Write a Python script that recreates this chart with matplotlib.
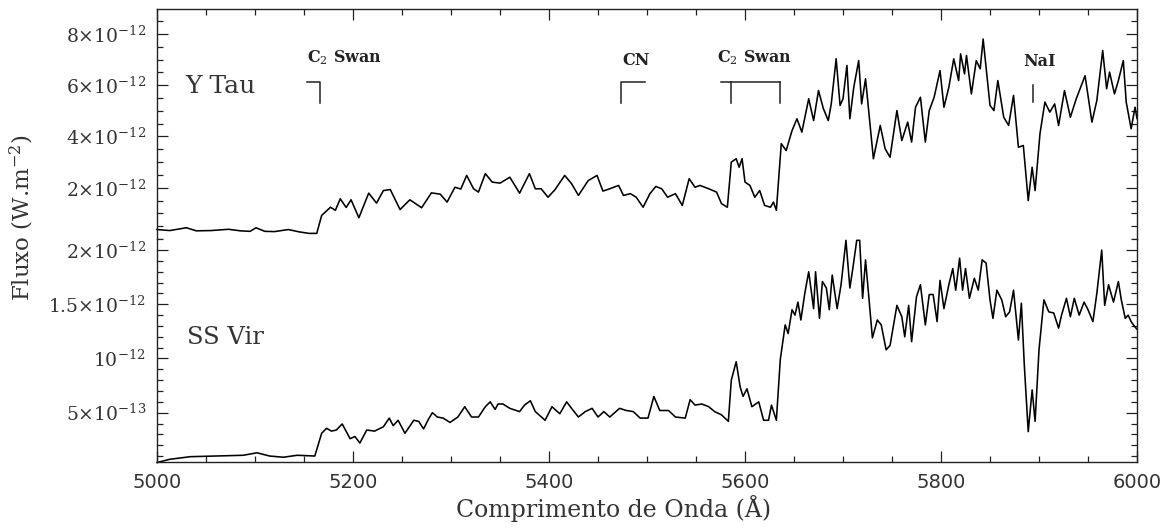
import matplotlib
matplotlib.use("Agg")
import matplotlib.pyplot as plt
from matplotlib.ticker import MultipleLocator

plt.rcParams["font.family"] = "DejaVu Serif"
plt.rcParams["mathtext.fontset"] = "dejavuserif"

# Y Tau spectrum (flux in units of 1e-12 W m^-2)
ytau_wl = [5000, 5013, 5030, 5040, 5055, 5073, 5085, 5095, 5101, 5110, 5120, 5134, 5145, 5155, 5163,
           5168, 5177, 5182, 5187, 5193, 5198, 5206, 5216, 5224, 5231, 5238, 5248, 5258, 5270, 5280,
           5289, 5296, 5304, 5310, 5316, 5323, 5328, 5335, 5342, 5350, 5360, 5370, 5380, 5386, 5392,
           5399, 5406, 5416, 5423, 5430, 5440, 5449, 5455, 5462, 5471, 5476, 5483, 5489, 5496, 5503,
           5509, 5515, 5521, 5529, 5536, 5543, 5549, 5554, 5563, 5571, 5576, 5582, 5586, 5591, 5594,
           5597, 5600, 5605, 5610, 5615, 5620, 5626, 5629, 5632, 5637, 5642, 5648, 5653, 5658, 5665,
           5670, 5675, 5680, 5685, 5688, 5693, 5697, 5700, 5704, 5707, 5711, 5716, 5719, 5723, 5731,
           5738, 5743, 5748, 5755, 5760, 5766, 5770, 5774, 5779, 5784, 5788, 5793, 5799, 5803, 5808,
           5813, 5818, 5820, 5824, 5826, 5831, 5836, 5840, 5843, 5850, 5854, 5858, 5864, 5869, 5874,
           5879, 5884, 5889, 5893, 5896, 5901, 5906, 5911, 5916, 5920, 5926, 5932, 5938, 5947, 5954,
           5959, 5965, 5969, 5972, 5977, 5981, 5986, 5989, 5994, 5998, 6000]
ytau_flux = [0.37, 0.33, 0.44, 0.32, 0.33, 0.38, 0.32, 0.30, 0.44, 0.30, 0.29, 0.37, 0.28, 0.22, 0.22,
             0.92, 1.24, 1.12, 1.57, 1.23, 1.53, 0.83, 1.79, 1.40, 1.89, 1.93, 1.15, 1.53, 1.22, 1.80,
             1.75, 1.44, 2.02, 1.95, 2.48, 1.96, 1.83, 2.55, 2.22, 2.18, 2.41, 1.79, 2.55, 1.96, 1.96,
             1.63, 1.92, 2.48, 2.16, 1.70, 2.28, 2.48, 1.87, 1.96, 2.09, 1.70, 1.77, 1.63, 1.24, 1.77,
             2.05, 1.96, 1.63, 1.77, 1.31, 2.35, 2.02, 2.09, 1.96, 1.83, 1.38, 1.24, 3.00, 3.13, 2.80,
             3.13, 2.22, 2.09, 1.63, 1.89, 1.31, 1.24, 1.44, 1.12, 3.72, 3.45, 4.23, 4.69, 4.17, 5.47,
             4.62, 5.79, 5.08, 4.62, 5.27, 7.03, 5.21, 5.47, 6.77, 4.69, 5.92, 6.96, 5.27, 6.25, 3.13,
             4.43, 3.52, 3.19, 5.01, 3.84, 4.56, 3.78, 5.14, 5.53, 3.78, 5.01, 5.53, 6.57, 5.14, 5.92,
             7.03, 6.18, 7.22, 6.44, 7.16, 5.66, 6.96, 6.64, 7.80, 5.21, 5.01, 6.18, 4.75, 4.43, 5.60,
             3.58, 3.65, 1.50, 2.80, 1.89, 4.11, 5.34, 4.95, 5.27, 4.43, 5.79, 4.75, 5.47, 6.37, 4.56,
             5.40, 7.35, 5.86, 6.51, 5.66, 6.18, 6.96, 5.34, 4.30, 5.14, 4.70]

# SS Vir spectrum (flux in units of 1e-12 W m^-2)
ssvir_wl = [5000, 5013, 5034, 5061, 5088, 5102, 5115, 5129, 5143, 5161, 5168, 5173, 5178, 5183, 5189,
            5194, 5197, 5202, 5207, 5214, 5222, 5231, 5237, 5241, 5246, 5253, 5262, 5267, 5272, 5277,
            5281, 5286, 5292, 5299, 5307, 5314, 5321, 5328, 5335, 5340, 5345, 5348, 5353, 5360, 5370,
            5375, 5381, 5386, 5396, 5403, 5411, 5418, 5423, 5430, 5437, 5444, 5450, 5456, 5462, 5472,
            5479, 5486, 5493, 5501, 5507, 5513, 5522, 5529, 5539, 5544, 5549, 5556, 5563, 5569, 5576,
            5583, 5586, 5591, 5595, 5598, 5602, 5607, 5614, 5619, 5624, 5627, 5632, 5636, 5641, 5644,
            5648, 5651, 5654, 5657, 5661, 5665, 5670, 5672, 5676, 5679, 5683, 5686, 5689, 5694, 5698,
            5703, 5707, 5710, 5714, 5717, 5720, 5723, 5730, 5735, 5739, 5744, 5748, 5755, 5760, 5763,
            5767, 5770, 5775, 5779, 5784, 5788, 5792, 5796, 5799, 5803, 5808, 5812, 5815, 5819, 5822,
            5825, 5829, 5834, 5838, 5842, 5846, 5850, 5853, 5857, 5862, 5866, 5870, 5874, 5879, 5882,
            5885, 5889, 5893, 5896, 5900, 5905, 5910, 5915, 5920, 5923, 5928, 5932, 5936, 5941, 5946,
            5950, 5955, 5959, 5964, 5967, 5971, 5976, 5981, 5984, 5988, 5991, 5994, 5998, 6000]
ssvir_flux = [0.04, 0.07, 0.094, 0.10, 0.107, 0.13, 0.10, 0.089, 0.107, 0.10, 0.31, 0.356, 0.33, 0.34, 0.396,
              0.31, 0.26, 0.28, 0.22, 0.34, 0.33, 0.37, 0.45, 0.38, 0.43, 0.31, 0.43, 0.42, 0.35, 0.44,
              0.50, 0.46, 0.45, 0.41, 0.46, 0.555, 0.46, 0.46, 0.555, 0.60, 0.53, 0.58, 0.58, 0.54, 0.51,
              0.57, 0.61, 0.51, 0.43, 0.555, 0.49, 0.60, 0.54, 0.46, 0.51, 0.54, 0.46, 0.51, 0.46, 0.54,
              0.52, 0.51, 0.45, 0.45, 0.65, 0.52, 0.52, 0.46, 0.45, 0.62, 0.57, 0.58, 0.555, 0.51, 0.48,
              0.42, 0.80, 0.97, 0.74, 0.65, 0.72, 0.555, 0.60, 0.43, 0.43, 0.57, 0.43, 0.99, 1.31, 1.23,
              1.45, 1.40, 1.52, 1.355, 1.60, 1.80, 1.46, 1.80, 1.37, 1.71, 1.65, 1.45, 1.77, 1.46, 1.68,
              2.09, 1.65, 1.83, 2.09, 2.09, 1.555, 1.91, 1.19, 1.355, 1.31, 1.08, 1.12, 1.49, 1.385, 1.20,
              1.49, 1.155, 1.57, 1.68, 1.31, 1.59, 1.59, 1.34, 1.72, 1.46, 1.68, 1.83, 1.63, 1.925, 1.63,
              1.83, 1.555, 1.74, 1.63, 1.91, 1.88, 1.54, 1.37, 1.63, 1.54, 1.385, 1.43, 1.63, 1.17, 1.51,
              0.94, 0.325, 0.71, 0.42, 1.08, 1.54, 1.43, 1.42, 1.28, 1.40, 1.555, 1.385, 1.555, 1.40, 1.52,
              1.45, 1.34, 1.60, 2.00, 1.49, 1.68, 1.52, 1.71, 1.54, 1.37, 1.40, 1.34, 1.29, 1.27]

top_ticks = [2, 4, 6, 8]
top_labels = [r"$2{\times}10^{-12}$", r"$4{\times}10^{-12}$", r"$6{\times}10^{-12}$", r"$8{\times}10^{-12}$"]
bot_ticks = [0.5, 1.0, 1.5, 2.0]
bot_labels = [r"$5{\times}10^{-13}$", r"$10^{-12}$", r"$1.5{\times}10^{-12}$", r"$2{\times}10^{-12}$"]
x_ticks = [5000, 5200, 5400, 5600, 5800, 6000]

fig = plt.figure(figsize=(11.7, 5.28), dpi=100)
ax_top = fig.add_axes([0.1342, 0.5473, 0.8376, 0.4356])
ax_bot = fig.add_axes([0.1342, 0.125, 0.8376, 0.4223])

ax_top.plot(ytau_wl, ytau_flux, color="black", lw=1.15, clip_on=False)
ax_bot.plot(ssvir_wl, ssvir_flux, color="black", lw=1.15, clip_on=False)

ax_top.set_xlim(5000, 6000)
ax_bot.set_xlim(5000, 6000)
ax_top.set_ylim(0, 8.97)
ax_bot.set_ylim(0.045, 2.102)

for ax in (ax_top, ax_bot):
    ax.xaxis.set_minor_locator(MultipleLocator(50))
    ax.set_xticks(x_ticks)
    ax.tick_params(which="both", direction="in", right=True, width=0.9, colors="#222222")
    ax.tick_params(which="major", length=8, pad=8)
    ax.tick_params(which="minor", length=4)
    for s in ax.spines.values():
        s.set_linewidth(1.0)
        s.set_color("#222222")

ax_top.spines["bottom"].set_visible(False)
ax_top.tick_params(axis="x", which="both", bottom=False, top=True, labelbottom=False)
ax_top.set_yticks(top_ticks)
ax_top.set_yticklabels(top_labels)
ax_top.yaxis.set_minor_locator(MultipleLocator(0.5))

ax_bot.spines["top"].set_visible(False)
ax_bot.tick_params(axis="x", which="both", top=False, bottom=True)
ax_bot.set_yticks(bot_ticks)
ax_bot.set_yticklabels(bot_labels)
ax_bot.yaxis.set_minor_locator(MultipleLocator(0.1))

for ax in (ax_top, ax_bot):
    for lab in ax.get_yticklabels():
        lab.set_fontsize(13.5)
        lab.set_color("#333333")
for lab in ax_bot.get_xticklabels():
    lab.set_fontsize(14)
    lab.set_fontfamily("DejaVu Sans")
    lab.set_color("#333333")

# band markers
ann = dict(color="#222222", lw=1.1)
ax_top.plot([5153, 5166, 5166], [6.13, 6.13, 5.29], **ann)
ax_top.plot([5473, 5473, 5498], [5.29, 6.13, 6.13], **ann)
ax_top.plot([5575, 5636], [6.13, 6.13], **ann)
ax_top.plot([5586, 5586], [6.13, 5.29], **ann)
ax_top.plot([5636, 5636], [6.13, 5.29], **ann)
ax_top.plot([5894, 5894], [6.0, 5.35], **ann)

tk = dict(fontsize=11.5, fontweight="bold", color="#222222", va="center", ha="left")
ax_top.text(5153, 7.09, r"C$_2$ Swan", **tk)
ax_top.text(5475, 6.98, "CN", **tk)
ax_top.text(5571, 7.09, r"C$_2$ Swan", **tk)
ax_top.text(5884, 6.91, "NaI", **tk)

ax_top.text(5029, 5.93, "Y Tau", fontsize=18, color="#333333", va="center", ha="left")
ax_bot.text(5031, 1.198, "SS Vir", fontsize=17.5, color="#333333", va="center", ha="left")

fig.text(22 / 1170, 1 - 218 / 528, r"Fluxo (W.m$^{-2}$)", rotation=90, fontsize=16.5,
         color="#333333", ha="center", va="center")
fig.text(614 / 1170, 1 - 509 / 528, "Comprimento de Onda (Å)", fontsize=17,
         color="#333333", ha="center", va="center")

fig.savefig("out.png", dpi=100, facecolor="white")
